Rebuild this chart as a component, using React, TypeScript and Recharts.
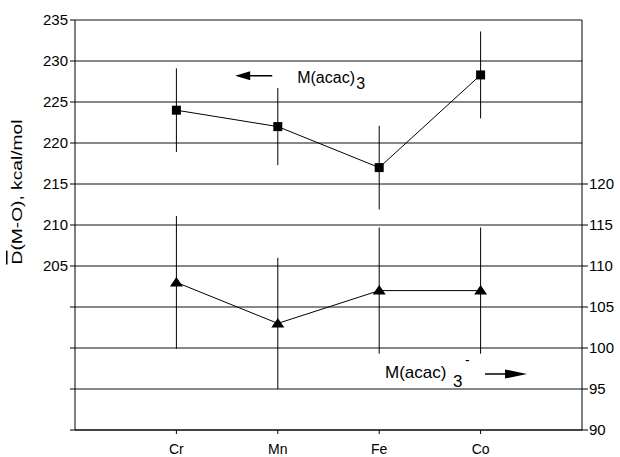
import React from 'react';
import { ComposedChart, Line, XAxis, YAxis, CartesianGrid, ErrorBar, ReferenceDot } from 'recharts';

const categories = ['Cr', 'Mn', 'Fe', 'Co'];
const neutralValues = [224, 222, 217, 228.3];
const neutralErrors = [5.1, 4.7, 5.1, 5.3];
const anionValues = [108, 103, 107, 107];
const anionErrors = [8.1, 8, 7.7, 7.7];
const leftTicks = [185, 190, 195, 200, 205, 210, 215, 220, 225, 230, 235];
const leftLabelMin = 205;
const rightTicks = [90, 95, 100, 105, 110, 115, 120];
const xTicks = [1, 2, 3, 4];

const data = categories.map((c, i) => ({
  x: i + 1,
  name: c,
  neutral: neutralValues[i],
  neutralErr: neutralErrors[i],
  anion: anionValues[i],
  anionErr: anionErrors[i],
}));

const FONT = 'Liberation Sans, Arial, Helvetica, sans-serif';

const SquareDot = (p: any) => {
  const { cx, cy } = p;
  if (cx == null || cy == null) return null;
  return <rect x={cx - 4.5} y={cy - 4.5} width={9} height={9} fill="#000" />;
};

const TriangleDot = (p: any) => {
  const { cx, cy } = p;
  if (cx == null || cy == null) return null;
  return <polygon points={`${cx},${cy - 5.5} ${cx + 6.5},${cy + 4} ${cx - 6.5},${cy + 4}`} fill="#000" />;
};

const Anno1 = (p: any) => {
  const { cx, cy } = p;
  return (
    <g fontFamily={FONT} fill="#000">
      <polygon points={`${cx},${cy} ${cx + 15},${cy - 4.5} ${cx + 15},${cy + 4.5}`} fill="#000" />
      <line x1={cx + 12} y1={cy} x2={cx + 37} y2={cy} stroke="#000" strokeWidth={1.5} />
      <text x={cx + 62} y={cy + 7} fontSize={16}>M(acac)</text>
      <text x={cx + 121} y={cy + 13} fontSize={16}>3</text>
    </g>
  );
};

const Anno2 = (p: any) => {
  const { cx, cy } = p;
  return (
    <g fontFamily={FONT} fill="#000">
      <line x1={cx - 42} y1={cy} x2={cx - 18} y2={cy} stroke="#000" strokeWidth={1.5} />
      <polygon points={`${cx},${cy} ${cx - 22},${cy - 4.5} ${cx - 22},${cy + 4.5}`} fill="#000" />
      <text x={cx - 142} y={cy + 4} fontSize={17}>M(acac)</text>
      <text x={cx - 74} y={cy + 13} fontSize={17}>3</text>
      <text x={cx - 62} y={cy - 9} fontSize={14}>-</text>
    </g>
  );
};

const YLabel = (p: any) => {
  const vb = p.viewBox || { x: 0, y: 20, width: 75, height: 410 };
  const cx = vb.x + 16;
  const cy = vb.y + 172;
  return (
    <text
      x={cx}
      y={cy}
      transform={`rotate(-90 ${cx} ${cy})`}
      textAnchor="middle"
      dominantBaseline="central"
      fontFamily={FONT}
      fontSize={15}
      fill="#000"
      textLength={145}
      lengthAdjust="spacingAndGlyphs"
    >
      <tspan style={{ textDecoration: 'overline' }}>D</tspan>
      <tspan>(M-O), kcal/mol</tspan>
    </text>
  );
};

export default function App() {
  return (
    <div style={{ position: 'absolute', left: 0, top: 0, background: '#fff' }}>
      <ComposedChart
        width={620}
        height={457}
        data={data}
        margin={{ top: 20, right: 0, bottom: 0, left: 0 }}
        style={{ fontFamily: FONT }}
      >
        <CartesianGrid yAxisId="left" vertical={false} stroke="#111" strokeWidth={1} />
        <XAxis
          dataKey="x"
          type="number"
          domain={[0, 5]}
          ticks={xTicks}
          tickFormatter={(v: number) => categories[v - 1] ?? ''}
          height={27}
          tickSize={4}
          tickMargin={10}
          axisLine={{ stroke: '#000' }}
          tickLine={{ stroke: '#000' }}
          tick={{ fill: '#000', fontSize: 14, fontFamily: FONT }}
          interval={0}
        />
        <YAxis
          yAxisId="left"
          orientation="left"
          type="number"
          domain={[185, 235]}
          ticks={leftTicks}
          tickFormatter={(v: number) => (v >= leftLabelMin ? String(v) : '')}
          width={75}
          tickSize={5}
          tickMargin={2}
          axisLine={{ stroke: '#000' }}
          tickLine={{ stroke: '#000' }}
          tick={{ fill: '#000', fontSize: 15, fontFamily: FONT }}
          interval={0}
          allowDataOverflow
          label={<YLabel />}
        />
        <YAxis
          yAxisId="right"
          orientation="right"
          type="number"
          domain={[90, 140]}
          ticks={rightTicks}
          width={38}
          tickSize={6}
          tickMargin={1}
          axisLine={{ stroke: '#000' }}
          tickLine={{ stroke: '#000' }}
          tick={{ fill: '#000', fontSize: 15, fontFamily: FONT }}
          interval={0}
          allowDataOverflow
        />
        <Line
          yAxisId="left"
          dataKey="neutral"
          stroke="#000"
          strokeWidth={1}
          dot={<SquareDot />}
          activeDot={false}
          isAnimationActive={false}
        >
          <ErrorBar dataKey="neutralErr" width={0} stroke="#000" strokeWidth={1} direction="y" isAnimationActive={false} />
        </Line>
        <Line
          yAxisId="right"
          dataKey="anion"
          stroke="#000"
          strokeWidth={1}
          dot={<TriangleDot />}
          activeDot={false}
          isAnimationActive={false}
        >
          <ErrorBar dataKey="anionErr" width={0} stroke="#000" strokeWidth={1} direction="y" isAnimationActive={false} />
        </Line>
        <ReferenceDot yAxisId="left" x={1.58} y={228.2} r={1} shape={(p: any) => <Anno1 {...p} />} />
        <ReferenceDot yAxisId="right" x={4.458} y={96.83} r={1} shape={(p: any) => <Anno2 {...p} />} />
      </ComposedChart>
    </div>
  );
}
